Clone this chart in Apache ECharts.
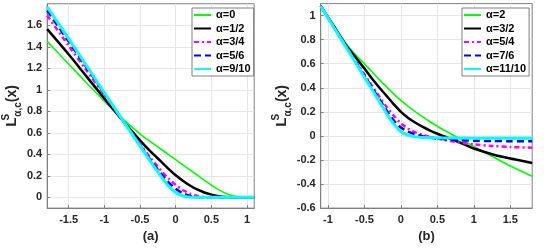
<!DOCTYPE html>
<html><head><meta charset="utf-8">
<script src="https://cdn.jsdelivr.net/npm/echarts@6/dist/echarts.min.js"></script>
<style>html,body{margin:0;padding:0;background:#fff}#c{width:554px;height:248px}</style>
</head><body><div id="c"></div>
<script>
// ---- panel (a) ----
const xA = [-1.8,-1.5,-1.25,-1.0,-0.75,-0.5,-0.35,-0.2,-0.1,0,0.1,0.2,0.3,0.4,0.5,0.6,0.7,0.8,0.9,1.0,1.1];
const a_0    = [1.45,1.24,1.065,0.895,0.735,0.59,0.515,0.445,0.398,0.35,0.302,0.255,0.208,0.16,0.113,0.072,0.038,0.014,0.003,0,0];
const a_1_2  = [1.564,1.33,1.125,0.92,0.72,0.53,0.425,0.33,0.265,0.205,0.155,0.11,0.073,0.045,0.025,0.011,0.003,0,0,0,0];
const a_3_4  = [1.69,1.41,1.18,0.95,0.72,0.495,0.365,0.245,0.175,0.115,0.068,0.035,0.014,0.004,0,0,0,0,0,0,0];
const a_5_6  = [1.737,1.45,1.21,0.967,0.725,0.485,0.345,0.215,0.14,0.08,0.038,0.013,0.003,0,0,0,0,0,0,0,0];
const a_9_10 = [1.77,1.475,1.225,0.975,0.725,0.478,0.332,0.19,0.105,0.045,0.013,0.002,0,0,0,0,0,0,0,0,0];
const namesA = ['α=0','α=1/2','α=3/4','α=5/6','α=9/10'];
const xTicksA = [-1.5,-1,-0.5,0,0.5,1];
const yTicksA = [0,0.2,0.4,0.6,0.8,1,1.2,1.4,1.6];

// ---- panel (b) ----
const xB = [-1.1,-0.9,-0.75,-0.6,-0.5,-0.4,-0.3,-0.2,-0.1,0,0.1,0.2,0.3,0.4,0.5,0.6,0.75,0.9,1.0,1.25,1.5,1.8];
const b_2     = [1.08,0.9,0.765,0.66,0.6,0.535,0.47,0.41,0.35,0.295,0.245,0.2,0.158,0.118,0.08,0.045,-0.005,-0.055,-0.088,-0.17,-0.25,-0.335];
const b_3_2   = [1.08,0.893,0.752,0.637,0.56,0.48,0.405,0.335,0.265,0.2,0.15,0.11,0.075,0.045,0.018,-0.005,-0.04,-0.078,-0.105,-0.152,-0.188,-0.225];
const b_5_4   = [1.08,0.888,0.745,0.602,0.512,0.42,0.33,0.245,0.17,0.105,0.06,0.03,0.008,-0.008,-0.022,-0.035,-0.05,-0.063,-0.07,-0.083,-0.092,-0.098];
const b_7_6   = [1.08,0.885,0.74,0.595,0.5,0.405,0.31,0.215,0.13,0.07,0.035,0.012,-0.002,-0.014,-0.022,-0.028,-0.034,-0.038,-0.04,-0.042,-0.044,-0.045];
const b_11_10 = [1.08,0.883,0.735,0.587,0.488,0.39,0.29,0.19,0.1,0.035,0.005,-0.008,-0.013,-0.015,-0.016,-0.017,-0.018,-0.018,-0.019,-0.019,-0.02,-0.02];
const namesB = ['α=2','α=3/2','α=5/4','α=7/6','α=11/10'];
const xTicksB = [-1,-0.5,0,0.5,1,1.5];
const yTicksB = [-0.6,-0.4,-0.2,0,0.2,0.4,0.6,0.8,1];

const colors = ['#00ff00','#000000','#ff00ff','#0000ff','#00ffff'];
const types  = ['solid','solid',[5,3,2,3],[7,4],'solid'];
const widths = [1.6,2.5,2.5,2.5,3];
const FONT = 'Liberation Sans';
const axisGray = '#7f7f7f';

function xAxisCfg(gi, min, max, ticks, name){
  return {type:'value', gridIndex:gi, min:min, max:max, name:name, nameLocation:'middle', nameGap:19,
    nameTextStyle:{fontSize:13, fontWeight:'bold', color:'#262626', fontFamily:FONT},
    axisLine:{show:true, onZero:false, lineStyle:{color:axisGray, width:1}},
    axisTick:{show:true, inside:true, length:3, customValues:ticks, lineStyle:{color:axisGray}},
    axisLabel:{customValues:ticks, margin:6, fontSize:11, fontWeight:'bold', color:'#262626', fontFamily:FONT},
    splitLine:{show:true, lineStyle:{color:'#e6e6e6', width:1}}};
}
function yAxisCfg(gi, min, max, ticks){
  return {type:'value', gridIndex:gi, min:min, max:max,
    name:'{L|L}{s|S}{c|α,c}{x|(x)}', nameLocation:'middle', nameGap:20, nameRotate:90,
    nameTextStyle:{color:'#262626', fontFamily:FONT, fontWeight:'bold',
      rich:{
        L:{fontSize:15, fontWeight:'bold', fontFamily:FONT, color:'#262626', lineHeight:22, verticalAlign:'middle'},
        s:{fontSize:10, fontWeight:'bold', fontFamily:FONT, color:'#262626', lineHeight:22, verticalAlign:'top', width:1},
        c:{fontSize:10, fontWeight:'bold', fontFamily:FONT, color:'#262626', lineHeight:22, verticalAlign:'bottom'},
        x:{fontSize:14, fontWeight:'bold', fontFamily:FONT, color:'#262626', lineHeight:22, verticalAlign:'middle'}
      }},
    axisLine:{show:true, onZero:false, lineStyle:{color:axisGray, width:1}},
    axisTick:{show:true, inside:true, length:3, customValues:ticks, lineStyle:{color:axisGray}},
    axisLabel:{customValues:ticks, margin:5, fontSize:11, fontWeight:'bold', color:'#262626', fontFamily:FONT},
    splitLine:{show:true, lineStyle:{color:'#e6e6e6', width:1}}};
}
function mkSeries(xs, ys, name, i, gi){
  return {type:'line', name:name, xAxisIndex:gi, yAxisIndex:gi,
    data: xs.map((x,k)=>[x, ys[k]]), showSymbol:false, symbol:'none', smooth:0.3, clip:true,
    lineStyle:{color:colors[i], width:widths[i], type:types[i]}, itemStyle:{color:colors[i]}, z:2+i};
}
function legendCfg(names, left){
  return {data:names, orient:'vertical', left:left, top:8, itemWidth:17, itemHeight:12, itemGap:1.5,
    backgroundColor:'#fff', borderColor:axisGray, borderWidth:1, padding:[1,3,1,1], itemStyle:{opacity:0},
    textStyle:{fontSize:11, fontWeight:'bold', color:'#000', fontFamily:FONT, lineHeight:12}};
}
const seriesA = [a_0,a_1_2,a_3_4,a_5_6,a_9_10].map((ys,i)=>mkSeries(xA, ys, namesA[i], i, 0));
const seriesB = [b_2,b_3_2,b_5_4,b_7_6,b_11_10].map((ys,i)=>mkSeries(xB, ys, namesB[i], i, 1));

const chart = echarts.init(document.getElementById('c'), null, {renderer:'canvas'});
chart.setOption({
  animation:false,
  backgroundColor:'#fff',
  grid:[
    {left:45.4, top:3.75, width:208.8, height:211.3, show:true, borderColor:axisGray, borderWidth:1, backgroundColor:'transparent'},
    {left:320.7, top:3.6, width:211.5, height:211, show:true, borderColor:axisGray, borderWidth:1, backgroundColor:'transparent'}
  ],
  xAxis:[xAxisCfg(0,-1.8,1.1,xTicksA,'(a)'), xAxisCfg(1,-1.1,1.8,xTicksB,'(b)')],
  yAxis:[yAxisCfg(0,-0.1,1.8,yTicksA), yAxisCfg(1,-0.6,1.1,yTicksB)],
  legend:[legendCfg(namesA,192), legendCfg(namesB,462)],
  series: seriesA.concat(seriesB)
});
</script></body></html>
